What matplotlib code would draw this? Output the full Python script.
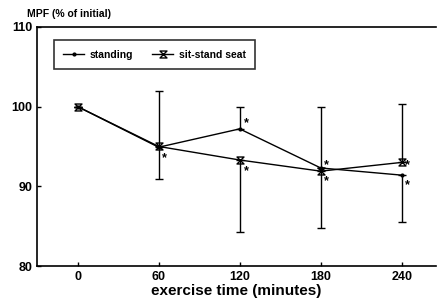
import matplotlib.pyplot as plt
from matplotlib.path import Path
from matplotlib.lines import Line2D

plt.rcParams['font.family'] = ['Liberation Sans', 'DejaVu Sans']
plt.rcParams['font.weight'] = 'bold'

# exercise time (minutes)
times = [0, 60, 120, 180, 240]

# MPF (% of initial)
standing = [100.0, 94.9, 97.2, 92.3, 91.4]
sit_stand = [100.0, 95.0, 93.3, 91.9, 93.0]

# one-sided error bars (lower, upper)
standing_lo = [0, 0, 0, 0, 5.9]
standing_hi = [0, 7.0, 2.7, 7.6, 0]
sit_stand_lo = [0, 4.1, 9.0, 7.1, 0]
sit_stand_hi = [0, 0, 0, 0, 7.3]

# significance marks (x, y)
stars_x = [64, 125, 125, 184, 184, 244, 244]
stars_y = [93.5, 97.9, 91.9, 92.6, 90.6, 92.6, 90.2]

# hourglass marker
hourglass = Path([(-1, 1), (1, 1), (-1, -1), (1, -1), (-1, 1)],
                 [Path.MOVETO, Path.LINETO, Path.LINETO, Path.LINETO, Path.CLOSEPOLY])

fig = plt.figure(figsize=(4.38, 3.01), dpi=100)
ax = fig.add_axes([0.0845, 0.116, 0.91, 0.795])

ax.errorbar(times, standing, yerr=[standing_lo, standing_hi], color='black',
            lw=1, marker='o', ms=2, capsize=3, elinewidth=1, capthick=1)
ax.errorbar(times, sit_stand, yerr=[sit_stand_lo, sit_stand_hi], color='black',
            lw=1, marker=hourglass, ms=5, mfc='none', mew=1, capsize=3,
            elinewidth=1, capthick=1)

for sx, sy in zip(stars_x, stars_y):
    ax.text(sx, sy, '*', fontsize=9, ha='center', va='center')

ax.set_xlim(-30, 265)
ax.set_ylim(80, 110)
ax.set_xticks(times)
ax.set_yticks([80, 90, 100, 110])
ax.tick_params(direction='in', length=3, width=1, labelsize=9)
ax.spines['right'].set_visible(False)
for s in ['top', 'left', 'bottom']:
    ax.spines[s].set_linewidth(1.2)

ax.set_xlabel('exercise time (minutes)', fontsize=11, fontweight='bold', labelpad=1)
fig.text(0.062, 0.955, 'MPF (% of initial)', fontsize=7.5, fontweight='bold',
         ha='left', va='center')

handles = [Line2D([], [], color='black', lw=1, marker='o', ms=2),
           Line2D([], [], color='black', lw=1, marker=hourglass, ms=5,
                  mfc='none', mew=1)]
leg = ax.legend(handles, ['standing', 'sit-stand seat'], loc='upper left',
                bbox_to_anchor=(0.042, 0.943), ncol=2,
                fontsize=7.5, frameon=True, fancybox=False, edgecolor='black',
                handlelength=2, columnspacing=1.9, borderpad=0.9,
                handletextpad=0.5, borderaxespad=0)
leg.get_frame().set_linewidth(1.2)

fig.savefig('out.png', dpi=100)
